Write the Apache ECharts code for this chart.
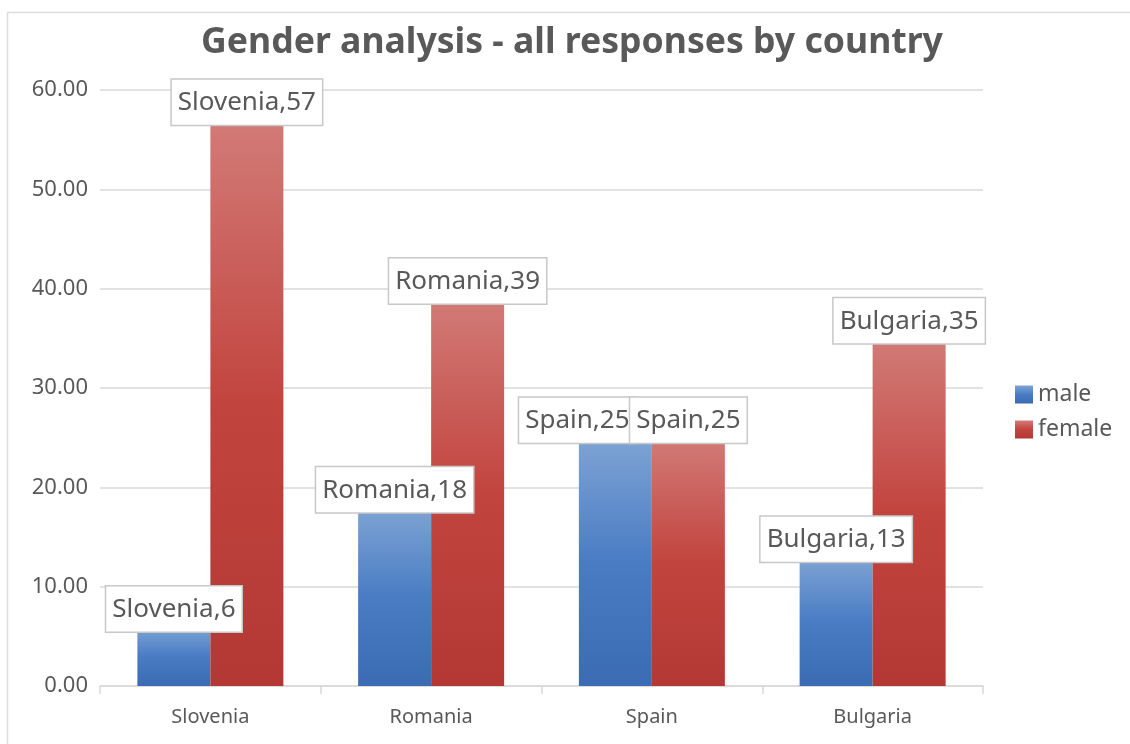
<!DOCTYPE html>
<html>
<head>
<meta charset="utf-8">
<title>Gender analysis - all responses by country</title>
<script src="https://cdn.jsdelivr.net/npm/echarts@6/dist/echarts.min.js"></script>
<style>
  html, body { margin: 0; padding: 0; background: #ffffff; }
  #chart { width: 1130px; height: 744px; }
</style>
</head>
<body>
<div id="chart"></div>
<script>
// Responses per country, split by gender
const categories = ['Slovenia', 'Romania', 'Spain', 'Bulgaria'];
const maleValues = [6, 18, 25, 13];
const femaleValues = [57, 39, 25, 35];
const seriesNames = ['male', 'female'];

const FONT = '"Noto Sans", sans-serif';
const TEXT_GREY = '#595959';

function vGradient(top, mid, bottom) {
  return new echarts.graphic.LinearGradient(0, 0, 0, 1, [
    { offset: 0, color: top },
    { offset: 0.5, color: mid },
    { offset: 1, color: bottom }
  ]);
}

const labelStyle = {
  show: true,
  position: 'top',
  distance: -5,
  formatter: '{b},{c}',
  fontFamily: FONT,
  fontSize: 26,
  color: TEXT_GREY,
  backgroundColor: '#ffffff',
  borderColor: '#c8c8c8',
  borderWidth: 1.5,
  padding: [10, 6, 9, 6]
};

const chart = echarts.init(document.getElementById('chart'), null, { renderer: 'canvas' });

chart.setOption({
  backgroundColor: '#ffffff',
  animation: false,
  graphic: [{
    type: 'rect',
    shape: { x: 7.5, y: 12.5, width: 1200, height: 800 },
    style: { fill: 'none', stroke: '#dcdcdc', lineWidth: 1.5 },
    silent: true,
    z: -10
  }],
  title: {
    text: 'Gender analysis - all responses by country',
    left: 567,
    textAlign: 'center',
    top: 20,
    textStyle: { fontFamily: FONT, fontSize: 35.6, fontWeight: 'bold', color: TEXT_GREY }
  },
  legend: {
    orient: 'vertical',
    left: 1010,
    top: 378,
    itemWidth: 18,
    itemHeight: 18,
    itemGap: 12,
    icon: 'rect',
    textStyle: { fontFamily: FONT, fontSize: 23, color: TEXT_GREY },
    data: seriesNames
  },
  grid: { left: 100, right: 147, top: 90, bottom: 58, containLabel: false },
  xAxis: {
    type: 'category',
    data: categories,
    axisLine: { lineStyle: { color: '#d9d9d9', width: 1.5 } },
    axisTick: { show: true, length: 8, lineStyle: { color: '#d9d9d9', width: 1.5 } },
    axisLabel: { fontFamily: FONT, fontSize: 20, color: TEXT_GREY, margin: 21 }
  },
  yAxis: {
    type: 'value',
    min: 0,
    max: 60,
    interval: 10,
    axisLine: { show: false },
    axisTick: { show: false },
    splitLine: { lineStyle: { color: '#d9d9d9', width: 1.5 } },
    axisLabel: {
      fontFamily: FONT, fontSize: 22, color: TEXT_GREY, margin: 12,
      formatter: v => v.toFixed(2)
    }
  },
  series: [
    {
      name: seriesNames[0],
      type: 'bar',
      barWidth: 73,
      barGap: '0%',
      itemStyle: { color: vGradient('#7ea4d4', '#4a7cc4', '#3a6bb3') },
      label: labelStyle,
      data: maleValues.map((v, i) => (
        categories[i] === 'Spain'
          ? { value: v, label: { offset: [-38, 0] } }
          : v
      ))
    },
    {
      name: seriesNames[1],
      type: 'bar',
      barWidth: 73,
      barGap: '0%',
      itemStyle: { color: vGradient('#d27b77', '#c2443f', '#b33834') },
      label: labelStyle,
      data: femaleValues
    }
  ]
});
</script>
</body>
</html>
